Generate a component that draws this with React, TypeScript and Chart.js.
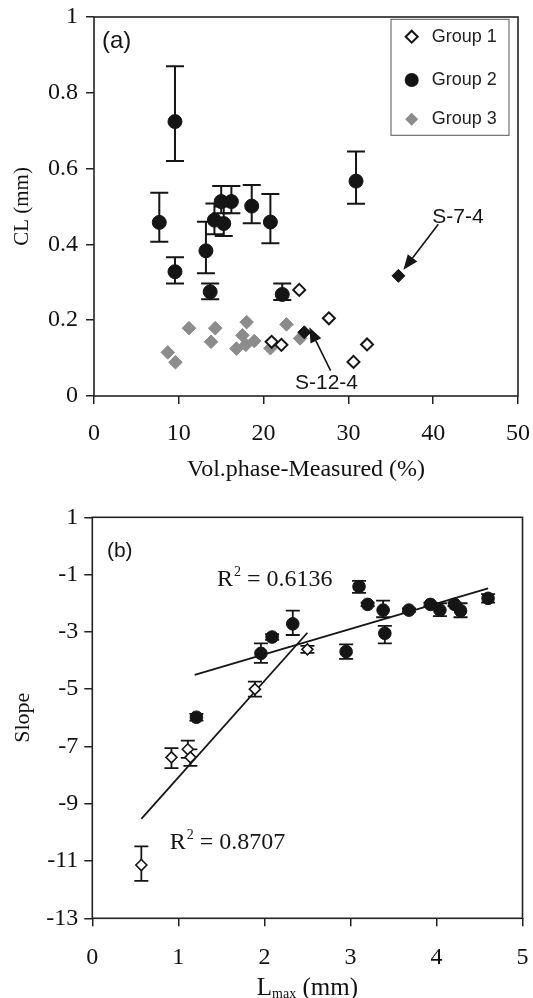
import React, { useEffect, useRef } from "react";
import { Chart, registerables } from "chart.js";

Chart.register(...registerables);

// ---------------- Panel (a) data ----------------
const volTicks = [0, 10, 20, 30, 40, 50];
const clTicks = [0, 0.2, 0.4, 0.6, 0.8, 1];

const group1Vol = [20.95, 22.1, 24.2, 27.7, 30.6, 32.2];
const group1CL = [0.143, 0.135, 0.28, 0.205, 0.09, 0.136];

const group2Vol = [7.7, 9.55, 9.55, 13.2, 13.7, 14.2, 15.0, 15.3, 16.2, 18.6, 20.8, 22.2, 30.9];
const group2CL = [0.458, 0.724, 0.328, 0.383, 0.275, 0.464, 0.513, 0.455, 0.513, 0.501, 0.459, 0.268, 0.567];
const group2CLLow = [0.407, 0.62, 0.297, 0.324, 0.255, 0.427, 0.482, 0.422, 0.482, 0.456, 0.403, 0.253, 0.507];
const group2CLHigh = [0.536, 0.87, 0.366, 0.46, 0.297, 0.508, 0.554, 0.5, 0.554, 0.557, 0.533, 0.297, 0.645];

const group3Vol = [8.7, 9.6, 11.2, 13.8, 14.3, 16.8, 17.5, 17.9, 18.0, 18.9, 20.8, 22.7, 24.3];
const group3CL = [0.115, 0.089, 0.179, 0.143, 0.179, 0.125, 0.16, 0.135, 0.195, 0.145, 0.126, 0.189, 0.152];

const markedVol = [24.8, 35.9];
const markedCL = [0.168, 0.317];
const markedNames = ["S-12-4", "S-7-4"];

const legendNames = ["Group 1", "Group 2", "Group 3"];

// ---------------- Panel (b) data ----------------
const lmaxTicks = [0, 1, 2, 3, 4, 5];
const slopeTicks = [1, -1, -3, -5, -7, -9, -11, -13];

const bGroup1L = [0.57, 0.92, 1.11, 1.14, 1.89, 2.5];
const bGroup1Slope = [-11.14, -7.38, -7.1, -7.38, -5.0, -3.61];
const bGroup1Low = [-11.69, -7.76, -7.4, -7.68, -5.26, -3.73];
const bGroup1High = [-10.49, -7.06, -6.8, -7.1, -4.74, -3.49];

const bGroup2L = [1.21, 1.96, 2.09, 2.33, 2.95, 3.1, 3.2, 3.38, 3.4, 3.68, 3.93, 4.04, 4.21, 4.28, 4.6];
const bGroup2Slope = [-5.98, -3.75, -3.18, -2.72, -3.69, -1.42, -2.04, -2.24, -3.05, -2.24, -2.04, -2.24, -2.04, -2.26, -1.83];
const bGroup2Low = [-6.1, -4.08, -3.28, -3.11, -3.94, -1.64, -2.1, -2.49, -3.4, -2.3, -2.1, -2.45, -2.1, -2.49, -1.98];
const bGroup2High = [-5.86, -3.4, -3.08, -2.26, -3.44, -1.22, -1.98, -1.91, -2.79, -2.18, -1.98, -2.0, -1.98, -2.0, -1.68];

const fit1L = [0.57, 2.5];
const fit1Slope = [-9.53, -3.03];
const fit1R2 = "0.8707";
const fit2L = [1.19, 4.6];
const fit2Slope = [-4.5, -1.48];
const fit2R2 = "0.6136";

// ---------------- styling ----------------
const SERIF = "'Liberation Serif', 'Times New Roman', serif";
const SANS = "'Liberation Sans', Arial, sans-serif";
const INK = "#151515";
const AXIS = "#222";
const GREY = "#8c8c8c";

function zip(xs: number[], ys: number[]) {
  return xs.map((x, i) => ({ x, y: ys[i] }));
}

function drawArrow(ctx: CanvasRenderingContext2D, x1: number, y1: number, x2: number, y2: number, head = 15, half = 6) {
  const a = Math.atan2(y2 - y1, x2 - x1);
  const bx = x2 - head * Math.cos(a);
  const by = y2 - head * Math.sin(a);
  ctx.beginPath();
  ctx.moveTo(x1, y1);
  ctx.lineTo(bx, by);
  ctx.stroke();
  ctx.beginPath();
  ctx.moveTo(x2, y2);
  ctx.lineTo(bx + half * Math.sin(a), by - half * Math.cos(a));
  ctx.lineTo(bx - half * Math.sin(a), by + half * Math.cos(a));
  ctx.closePath();
  ctx.fill();
}

function diamond(ctx: CanvasRenderingContext2D, x: number, y: number, r: number) {
  ctx.beginPath();
  ctx.moveTo(x - r, y);
  ctx.lineTo(x, y - r);
  ctx.lineTo(x + r, y);
  ctx.lineTo(x, y + r);
  ctx.closePath();
}

// "R² = value" with a real superscript
function drawR2(ctx: CanvasRenderingContext2D, value: string, x: number, y: number) {
  const big = `24px ${SERIF}`;
  const small = `14px ${SERIF}`;
  ctx.font = big;
  ctx.fillText("R", x, y);
  let cx = x + ctx.measureText("R").width + 1;
  ctx.font = small;
  ctx.fillText("2", cx, y - 8);
  cx += ctx.measureText("2").width;
  ctx.font = big;
  ctx.fillText(" = " + value, cx, y);
}

const framePlugin = {
  id: "frame",
  afterDatasetsDraw(chart: any) {
    const { ctx, chartArea } = chart;
    ctx.save();
    ctx.strokeStyle = AXIS;
    ctx.lineWidth = 1.6;
    ctx.strokeRect(chartArea.left, chartArea.top, chartArea.right - chartArea.left, chartArea.bottom - chartArea.top);
    ctx.restore();
  },
};

const errorBarPlugin = {
  id: "errorBars",
  beforeDatasetsDraw(chart: any, _args: any, opts: any) {
    const { ctx } = chart;
    const xs = chart.scales.x;
    const ys = chart.scales.y;
    const cap = opts.cap || 7;
    ctx.save();
    ctx.strokeStyle = INK;
    ctx.lineWidth = opts.width || 2;
    chart.data.datasets.forEach((ds: any) => {
      if (!ds.errLow) return;
      ds.data.forEach((p: any, j: number) => {
        const px = xs.getPixelForValue(p.x);
        const lo = ys.getPixelForValue(ds.errLow[j]);
        const hi = ys.getPixelForValue(ds.errHigh[j]);
        ctx.beginPath();
        ctx.moveTo(px, lo);
        ctx.lineTo(px, hi);
        ctx.moveTo(px - cap, lo);
        ctx.lineTo(px + cap, lo);
        ctx.moveTo(px - cap, hi);
        ctx.lineTo(px + cap, hi);
        ctx.stroke();
      });
    });
    ctx.restore();
  },
};

const annotationsA = {
  id: "annotationsA",
  afterDraw(chart: any) {
    const { ctx, chartArea } = chart;
    const xs = chart.scales.x;
    const ys = chart.scales.y;
    const X = (v: number) => xs.getPixelForValue(v);
    const Y = (v: number) => ys.getPixelForValue(v);
    ctx.save();
    ctx.fillStyle = INK;
    ctx.strokeStyle = INK;
    ctx.textBaseline = "middle";
    ctx.textAlign = "left";
    ctx.font = `24px ${SANS}`;
    ctx.fillText("(a)", X(0.94), Y(0.935));
    ctx.font = `21px ${SANS}`;
    ctx.fillText(markedNames[1], X(39.9), Y(0.473));
    ctx.fillText(markedNames[0], X(23.7), Y(0.034));
    ctx.lineWidth = 1.6;
    drawArrow(ctx, X(40.6), Y(0.453), X(markedVol[1]) + 5, Y(markedCL[1]) - 6);
    drawArrow(ctx, X(27.9), Y(0.067), X(markedVol[0]) + 5, Y(markedCL[0]) - 5);
    // legend box
    const bx = chartArea.right - 127;
    const by = chartArea.top + 2.3;
    const bw = 118;
    const bh = 116;
    ctx.fillStyle = "#fff";
    ctx.fillRect(bx, by, bw, bh);
    ctx.strokeStyle = "#555";
    ctx.lineWidth = 1;
    ctx.strokeRect(bx, by, bw, bh);
    const rowY = [by + 17.4, by + 60.7, by + 100];
    const mx = bx + 20.7;
    diamond(ctx, mx, rowY[0], 6);
    ctx.fillStyle = "#fff";
    ctx.fill();
    ctx.strokeStyle = INK;
    ctx.lineWidth = 2;
    ctx.stroke();
    ctx.beginPath();
    ctx.arc(mx, rowY[1], 7, 0, Math.PI * 2);
    ctx.fillStyle = INK;
    ctx.fill();
    diamond(ctx, mx, rowY[2], 6.5);
    ctx.fillStyle = GREY;
    ctx.fill();
    ctx.fillStyle = "#222";
    ctx.font = `18px ${SANS}`;
    legendNames.forEach((n, i) => ctx.fillText(n, bx + 40.7, rowY[i]));
    ctx.restore();
  },
};

const annotationsB = {
  id: "annotationsB",
  afterDraw(chart: any) {
    const { ctx, chartArea, height } = chart;
    const xs = chart.scales.x;
    const ys = chart.scales.y;
    const X = (v: number) => xs.getPixelForValue(v);
    const Y = (v: number) => ys.getPixelForValue(v);
    ctx.save();
    ctx.fillStyle = INK;
    ctx.textBaseline = "middle";
    ctx.textAlign = "left";
    ctx.font = `21px ${SANS}`;
    ctx.fillText("(b)", X(0.17), Y(-0.2));
    drawR2(ctx, fit2R2, X(1.45), Y(-1.19));
    drawR2(ctx, fit1R2, X(0.9), Y(-10.37));
    // x-axis title with subscript
    const cx = (chartArea.left + chartArea.right) / 2;
    const ty = height - 10;
    const big = `25px ${SERIF}`;
    const small = `14px ${SERIF}`;
    ctx.font = big;
    const wL = ctx.measureText("L").width;
    const wRest = ctx.measureText(" (mm)").width;
    ctx.font = small;
    const wSub = ctx.measureText("max").width;
    let x0 = cx - (wL + wSub + wRest) / 2;
    ctx.fillStyle = "#111";
    ctx.font = big;
    ctx.fillText("L", x0, ty);
    x0 += wL;
    ctx.font = small;
    ctx.fillText("max", x0, ty + 6);
    x0 += wSub;
    ctx.font = big;
    ctx.fillText(" (mm)", x0, ty);
    ctx.restore();
  },
};

function tickSetter(values: number[]) {
  return (scale: any) => {
    scale.ticks = values.map((v) => ({ value: v }));
  };
}

function fixX(height: number) {
  return (s: any) => {
    s.height = height;
    s.paddingLeft = 0;
    s.paddingRight = 0;
  };
}

function fixY(width: number) {
  return (s: any) => {
    s.width = width;
    s.paddingTop = 0;
    s.paddingBottom = 0;
  };
}

const plainNumber = (v: any) => String(Math.round(Number(v) * 1000) / 1000);

export default function App() {
  const refA = useRef<HTMLCanvasElement>(null);
  const refB = useRef<HTMLCanvasElement>(null);

  useEffect(() => {
    const tickFont = { family: SERIF, size: 24 };
    const gridOpts = { display: true, drawOnChartArea: false, drawTicks: true, tickLength: 8, tickColor: AXIS, lineWidth: 1.5 };

    const chartA = new Chart(refA.current as HTMLCanvasElement, {
      type: "scatter",
      data: {
        datasets: [
          {
            label: "Marked samples",
            data: zip(markedVol, markedCL),
            pointStyle: "rectRot",
            pointRadius: 6.5,
            backgroundColor: INK,
            borderColor: INK,
            borderWidth: 1,
            order: 0,
          },
          {
            label: legendNames[0],
            data: zip(group1Vol, group1CL),
            pointStyle: "rectRot",
            pointRadius: 6,
            backgroundColor: "#fff",
            borderColor: INK,
            borderWidth: 2,
            order: 1,
          },
          {
            label: legendNames[1],
            data: zip(group2Vol, group2CL),
            errLow: group2CLLow,
            errHigh: group2CLHigh,
            pointStyle: "circle",
            pointRadius: 7,
            backgroundColor: INK,
            borderColor: INK,
            borderWidth: 1,
            order: 2,
          } as any,
          {
            label: legendNames[2],
            data: zip(group3Vol, group3CL),
            pointStyle: "rectRot",
            pointRadius: 6.8,
            backgroundColor: GREY,
            borderColor: GREY,
            borderWidth: 1,
            order: 3,
          },
        ],
      },
      options: {
        responsive: false,
        animation: false,
        events: [],
        layout: { padding: { left: 0, right: 15, top: 17, bottom: 0 } },
        plugins: {
          legend: { display: false },
          tooltip: { enabled: false },
          errorBars: { cap: 9, width: 2 },
        } as any,
        scales: {
          x: {
            type: "linear",
            min: 0,
            max: 50,
            afterBuildTicks: tickSetter(volTicks),
            afterFit: fixX(94),
            grid: gridOpts,
            border: { display: false },
            ticks: { font: tickFont, color: "#111", padding: 15.6, maxRotation: 0, autoSkip: false, callback: plainNumber },
            title: { display: true, text: "Vol.phase-Measured (%)", font: { family: SERIF, size: 24 }, color: "#111", padding: { top: 0, bottom: 5.6 } },
          },
          y: {
            type: "linear",
            min: 0,
            max: 1,
            afterBuildTicks: tickSetter(clTicks),
            afterFit: fixY(94),
            grid: gridOpts,
            border: { display: false },
            ticks: { font: tickFont, color: "#111", padding: 8, autoSkip: false, callback: plainNumber },
            title: { display: true, text: "CL (mm)", font: { family: SERIF, size: 21 }, color: "#111", padding: { top: 10, bottom: 0 } },
          },
        },
      } as any,
      plugins: [errorBarPlugin, framePlugin, annotationsA],
    });

    const chartB = new Chart(refB.current as HTMLCanvasElement, {
      type: "scatter",
      data: {
        datasets: [
          {
            label: "Group 1",
            data: zip(bGroup1L, bGroup1Slope),
            errLow: bGroup1Low,
            errHigh: bGroup1High,
            pointStyle: "rectRot",
            pointRadius: 5.5,
            backgroundColor: "#fff",
            borderColor: INK,
            borderWidth: 1.6,
            order: 0,
          } as any,
          {
            label: "Group 2",
            data: zip(bGroup2L, bGroup2Slope),
            errLow: bGroup2Low,
            errHigh: bGroup2High,
            pointStyle: "circle",
            pointRadius: 6.3,
            backgroundColor: INK,
            borderColor: INK,
            borderWidth: 1,
            order: 1,
          } as any,
          {
            label: "Fit Group 1",
            data: zip(fit1L, fit1Slope),
            showLine: true,
            pointRadius: 0,
            borderColor: INK,
            borderWidth: 1.8,
            order: 2,
          },
          {
            label: "Fit Group 2",
            data: zip(fit2L, fit2Slope),
            showLine: true,
            pointRadius: 0,
            borderColor: INK,
            borderWidth: 1.8,
            order: 3,
          },
        ],
      },
      options: {
        responsive: false,
        animation: false,
        events: [],
        layout: { padding: { left: 0, right: 10.5, top: 27.3, bottom: 0 } },
        plugins: {
          legend: { display: false },
          tooltip: { enabled: false },
          errorBars: { cap: 7, width: 1.8 },
        } as any,
        scales: {
          x: {
            type: "linear",
            min: 0,
            max: 5,
            afterBuildTicks: tickSetter(lmaxTicks),
            afterFit: fixX(79.7),
            grid: gridOpts,
            border: { display: false },
            ticks: { font: tickFont, color: "#111", padding: 17.3, maxRotation: 0, autoSkip: false, callback: plainNumber },
            title: { display: false },
          },
          y: {
            type: "linear",
            min: -13,
            max: 1,
            afterBuildTicks: tickSetter(slopeTicks),
            afterFit: fixY(92.3),
            grid: gridOpts,
            border: { display: false },
            ticks: { font: tickFont, color: "#111", padding: 6, autoSkip: false, callback: plainNumber },
            title: { display: true, text: "Slope", font: { family: SERIF, size: 22 }, color: "#111", padding: { top: 10, bottom: 0 } },
          },
        },
      } as any,
      plugins: [errorBarPlugin, framePlugin, annotationsB],
    });

    return () => {
      chartA.destroy();
      chartB.destroy();
    };
  }, []);

  return (
    <div style={{ position: "absolute", left: 0, top: 0, width: 533, height: 998, background: "#fff" }}>
      <canvas ref={refA} width={533} height={490} style={{ display: "block" }} />
      <canvas ref={refB} width={533} height={508} style={{ display: "block" }} />
    </div>
  );
}
